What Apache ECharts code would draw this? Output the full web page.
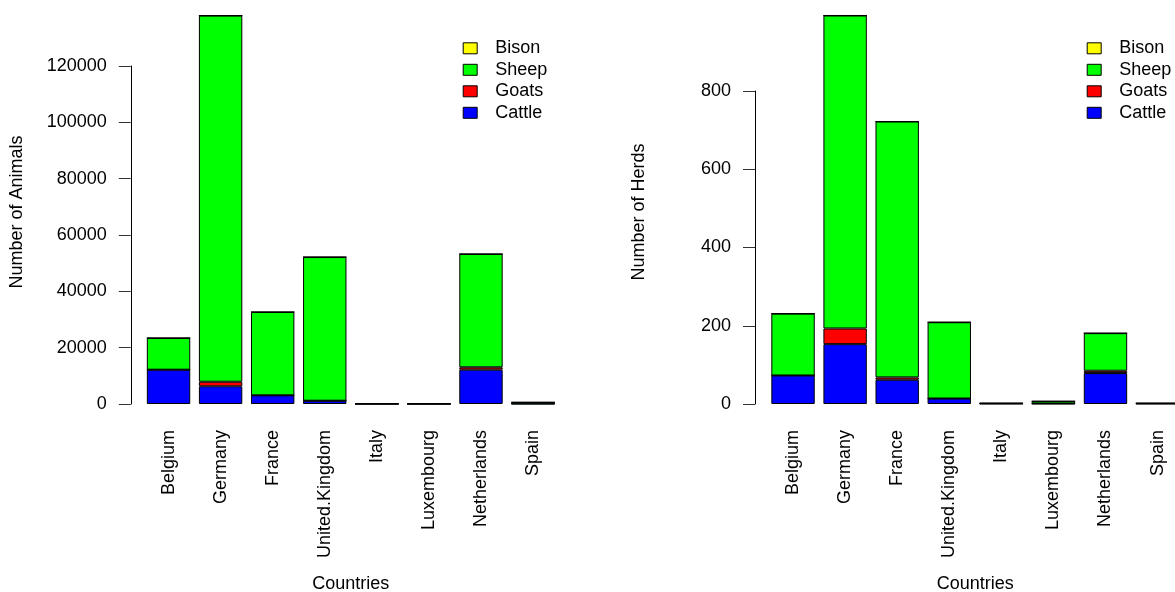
<!DOCTYPE html>
<html>
<head>
<meta charset="utf-8">
<script src="https://cdn.jsdelivr.net/npm/echarts@6/dist/echarts.min.js"></script>
<style>
  html, body { margin: 0; padding: 0; background: #fff; overflow: hidden; }
  #chart { width: 1175px; height: 592px; }
</style>
</head>
<body>
<div id="chart"></div>
<script>
// Livestock per country: animal counts (left) and herd counts (right)
const countries = ['Belgium', 'Germany', 'France', 'United.Kingdom', 'Italy', 'Luxembourg', 'Netherlands', 'Spain'];
const species = ['Cattle', 'Goats', 'Sheep', 'Bison'];
const legendOrder = ['Bison', 'Sheep', 'Goats', 'Cattle'];
const speciesColors = { Cattle: '#0000FF', Goats: '#FF0000', Sheep: '#00FF00', Bison: '#FFFF00' };

const cattleAnimals = [12180, 6280, 3090, 1170, 60, 50, 12180, 100];
const goatsAnimals  = [0, 1630, 0, 0, 0, 0, 850, 0];
const sheepAnimals  = [11250, 130000, 29570, 51000, 90, 100, 40220, 500];
const bisonAnimals  = [0, 0, 0, 0, 0, 0, 0, 0];

const cattleHerds = [73, 153, 62, 14, 1, 1, 79, 1];
const goatsHerds  = [0, 40, 6, 0, 0, 0, 6, 0];
const sheepHerds  = [158, 800, 654, 195, 1, 6, 96, 1];
const bisonHerds  = [0, 0, 0, 0, 0, 0, 0, 0];

const animalTicks = { min: 0, max: 120000, step: 20000 };
const herdTicks = { min: 0, max: 800, step: 200 };

const animalsBySpecies = { Cattle: cattleAnimals, Goats: goatsAnimals, Sheep: sheepAnimals, Bison: bisonAnimals };
const herdsBySpecies = { Cattle: cattleHerds, Goats: goatsHerds, Sheep: sheepHerds, Bison: bisonHerds };

const FONT = '"Liberation Sans", Arial, Helvetica, sans-serif';
const FS = 18;

function xAxisFor(gridIndex) {
  return {
    type: 'category', gridIndex: gridIndex, data: countries,
    axisLine: { show: false }, axisTick: { show: false },
    axisLabel: { interval: 0, rotate: 90, margin: 26, color: '#000', fontSize: FS, fontFamily: FONT,
                 padding: [6, 0, 0, 0] },
    name: 'Countries', nameLocation: 'middle', nameGap: 171,
    nameTextStyle: { color: '#000', fontSize: FS, fontFamily: FONT }
  };
}

function yAxisFor(gridIndex, ticks, offset) {
  return {
    type: 'value', gridIndex: gridIndex,
    min: ticks.min, max: ticks.max, interval: ticks.step, offset: offset,
    axisLine: { show: true, lineStyle: { color: '#000', width: 1 } },
    axisTick: { show: true, length: 12, lineStyle: { color: '#333', width: 1 } },
    axisLabel: { margin: 24, color: '#000', fontSize: FS, fontFamily: FONT,
                 formatter: function (v) { return String(v); } },
    splitLine: { show: false }
  };
}

function seriesFor(gridIndex, table, stackName) {
  return species.map(function (s) {
    return {
      name: s, type: 'bar', stack: stackName,
      xAxisIndex: gridIndex, yAxisIndex: gridIndex,
      data: table[s], clip: false,
      barCategoryGap: '16.67%',
      itemStyle: { color: speciesColors[s], borderColor: '#000', borderWidth: 1 },
      emphasis: { disabled: true }
    };
  });
}

function legendAt(left) {
  return {
    orient: 'vertical', left: left, top: 38.3, padding: 0,
    data: legendOrder, icon: 'rect',
    itemWidth: 14, itemHeight: 11, itemGap: 1.5,
    selectedMode: false,
    itemStyle: { borderColor: '#000', borderWidth: 1 },
    textStyle: { color: '#000', fontSize: FS, fontFamily: FONT, lineHeight: 20, padding: [0, 0, 0, 13] }
  };
}

const chart = echarts.init(document.getElementById('chart'), null, { renderer: 'canvas' });
chart.setOption({
  animation: false,
  backgroundColor: '#fff',
  grid: [
    { left: 142.5, width: 416.6, top: 66, height: 338, containLabel: false, outerBoundsMode: 'none' },
    { left: 767, width: 416.6, top: 91, height: 313, containLabel: false, outerBoundsMode: 'none' }
  ],
  xAxis: [xAxisFor(0), xAxisFor(1)],
  yAxis: [yAxisFor(0, animalTicks, 11.7), yAxisFor(1, herdTicks, 12)],
  legend: [legendAt(462.7), legendAt(1086.7)],
  series: seriesFor(0, animalsBySpecies, 'animals').concat(seriesFor(1, herdsBySpecies, 'herds')),
  graphic: [
    { type: 'text', x: 17.5, y: 212, rotation: Math.PI / 2,
      style: { text: 'Number of Animals', fill: '#000', font: FS + 'px ' + FONT, textAlign: 'center', textVerticalAlign: 'middle' } },
    { type: 'text', x: 639, y: 212, rotation: Math.PI / 2,
      style: { text: 'Number of Herds', fill: '#000', font: FS + 'px ' + FONT, textAlign: 'center', textVerticalAlign: 'middle' } }
  ]
});
</script>
</body>
</html>
